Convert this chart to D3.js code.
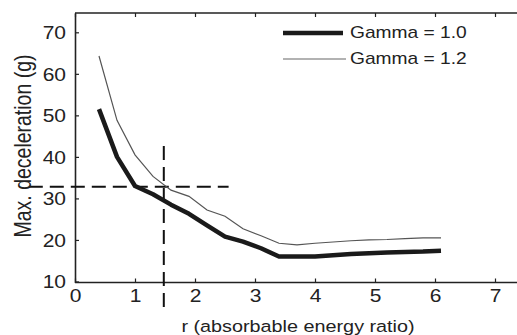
<!DOCTYPE html>
<html>
<head>
<meta charset="utf-8">
<script src="https://cdn.jsdelivr.net/npm/d3@7"></script>
<style>
  body { margin: 0; background: #fff; }
  svg text { font-family: "Liberation Sans", Arial, Helvetica, sans-serif; fill: #222; }
</style>
</head>
<body>
<div id="chart"></div>
<script>
// r (absorbable energy ratio) sampled every 0.3
const rValues = [0.4, 0.7, 1.0, 1.3, 1.6, 1.9, 2.2, 2.5, 2.8, 3.1, 3.4, 3.7, 4.0, 4.3, 4.6, 4.9, 5.2, 5.5, 5.8, 6.1];
const gamma10 = [51.5, 40, 33, 31, 28.5, 26.3, 23.5, 20.8, 19.6, 18.0, 16.0, 16.0, 16.0, 16.3, 16.6, 16.8, 17.0, 17.1, 17.2, 17.4];
const gamma12 = [64.3, 48.8, 40.5, 35.3, 32.0, 30.5, 27.2, 25.7, 22.7, 21.0, 19.2, 18.8, 19.2, 19.5, 19.8, 20.0, 20.1, 20.3, 20.5, 20.5];
const seriesNames = ["Gamma = 1.0", "Gamma = 1.2"];
const xTicks = [0, 1, 2, 3, 4, 5, 6, 7];
const yTicks = [10, 20, 30, 40, 50, 60, 70];
// dashed guide lines: horizontal at g = 32.8 from r=-0.77 to 2.56, vertical at r = 1.48 from g=42.6 to 2.7
const hGuide = [[-0.77, 32.8], [2.56, 32.8]];
const vGuide = [[1.48, 42.6], [1.48, 2.7]];

const W = 517, H = 335;
const sx = 1.2; // the original figure is stretched horizontally

const svg = d3.select("#chart").append("svg")
    .attr("width", W)
    .attr("height", H);

const x = d3.scaleLinear().domain([0, 7.4]).range([75, 519]);
const y = d3.scaleLinear().domain([9.75, 74.65]).range([282.5, 13]);

// frame axes
const axBottom = svg.append("g")
    .attr("transform", `translate(0,${y.range()[0]})`)
    .call(d3.axisBottom(x).tickValues(xTicks).tickSizeInner(-4).tickSizeOuter(0).tickPadding(8));
const axTop = svg.append("g")
    .attr("transform", `translate(0,${y.range()[1]})`)
    .call(d3.axisTop(x).tickValues(xTicks).tickSizeInner(-4).tickSizeOuter(0).tickFormat(""));
const axLeft = svg.append("g")
    .attr("transform", `translate(${x.range()[0]},0)`)
    .call(d3.axisLeft(y).tickValues(yTicks).tickSizeInner(-4).tickSizeOuter(0).tickPadding(0));

[axBottom, axTop, axLeft].forEach(g => {
    g.select(".domain").attr("stroke", "#222").attr("stroke-width", 1.6);
    g.selectAll(".tick line").attr("stroke", "#222").attr("stroke-width", 1.2);
});
axTop.select(".domain").attr("d", `M${x.range()[0]},0H${W}`);
axBottom.select(".domain").attr("d", `M${x.range()[0]},0H${W}`);

axBottom.selectAll(".tick text")
    .attr("font-size", 17.5)
    .attr("dy", "0.75em")
    .attr("y", 6)
    .attr("transform", `scale(${sx},1)`);
axLeft.selectAll(".tick text")
    .attr("font-size", 17.5)
    .attr("x", -9 / sx)
    .attr("dy", "0.36em")
    .attr("transform", `scale(${sx},1)`);

// dashed guides
const line = d3.line().x(d => x(d[0])).y(d => y(d[1]));
[hGuide, vGuide].forEach(g => {
    svg.append("path")
        .attr("d", line(g))
        .attr("fill", "none")
        .attr("stroke", "#111")
        .attr("stroke-width", 2)
        .attr("stroke-dasharray", "14,7");
});

// data lines
const dataLine = d3.line()
    .x((d, i) => x(rValues[i]))
    .y(d => y(d));

svg.append("path")
    .datum(gamma12)
    .attr("fill", "none")
    .attr("stroke", "#555")
    .attr("stroke-width", 1.2)
    .attr("d", dataLine);

svg.append("path")
    .datum(gamma10)
    .attr("fill", "none")
    .attr("stroke", "#1a1a1a")
    .attr("stroke-width", 4.5)
    .attr("stroke-linejoin", "round")
    .attr("d", dataLine);

// legend
const legend = [
    { name: seriesNames[0], y: 33, color: "#1a1a1a", w: 4.5, x2: 343 },
    { name: seriesNames[1], y: 59, color: "#666", w: 1.2, x2: 346 }
];
legend.forEach(l => {
    svg.append("line")
        .attr("x1", 283).attr("x2", l.x2)
        .attr("y1", l.y).attr("y2", l.y)
        .attr("stroke", l.color)
        .attr("stroke-width", l.w);
    svg.append("text")
        .attr("transform", `translate(350,${l.y + 4.8}) scale(${sx},1)`)
        .attr("font-size", 16)
        .text(l.name);
});

// axis titles
svg.append("text")
    .attr("transform", `translate(298,331.5) scale(${sx},1)`)
    .attr("text-anchor", "middle")
    .attr("font-size", 16.5)
    .text("r (absorbable energy ratio)");

svg.append("text")
    .attr("transform", `translate(31,146) scale(${sx},1) rotate(-90)`)
    .attr("text-anchor", "middle")
    .attr("font-size", 19.5)
    .text("Max. deceleration (g)");
</script>
</body>
</html>
